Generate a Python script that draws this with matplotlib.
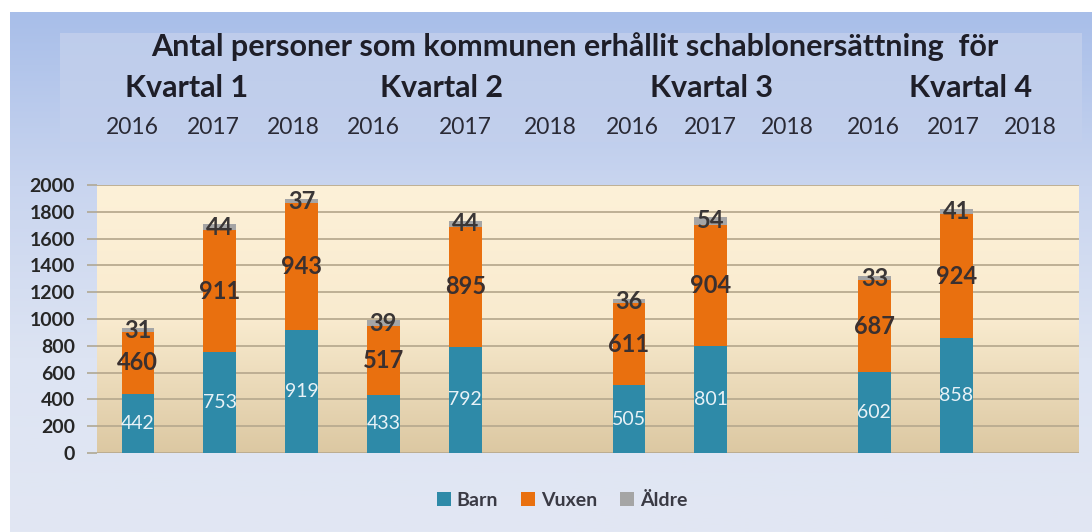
import numpy as np
import matplotlib
matplotlib.use('Agg')
import matplotlib.pyplot as plt
from matplotlib.patches import FancyBboxPatch
from matplotlib.colors import LinearSegmentedColormap

plt.rcParams['font.family'] = ['Lato', 'DejaVu Sans']

# data: 4 quarters x 3 years, 2018 missing after Q1
kvartal = ['Kvartal 1', 'Kvartal 2', 'Kvartal 3', 'Kvartal 4']
years = ['2016', '2017', '2018']
barn = [442, 753, 919, 433, 792, None, 505, 801, None, 602, 858, None]
vuxen = [460, 911, 943, 517, 895, None, 611, 904, None, 687, 924, None]
aldre = [31, 44, 37, 39, 44, None, 36, 54, None, 33, 41, None]
series = ['Barn', 'Vuxen', 'Äldre']
colors = ['#2e8aa8', '#e9700f', '#a5a5a5']

W, H = 1092, 532
fig = plt.figure(figsize=(W / 100, H / 100), dpi=100)
fig.patch.set_facecolor('white')

# outer blue gradient frame
bg = fig.add_axes([10 / W, 0, 1 - 10 / W, 1 - 12 / H], zorder=-10)
bg.axis('off')
cm_bg = LinearSegmentedColormap.from_list('bg', ['#a8bee9', '#c9d5ef', '#dde4f3', '#e2e7f3'])
bg.imshow(np.linspace(0, 1, 256).reshape(-1, 1), cmap=cm_bg, aspect='auto', extent=[0, 1, 0, 1])
bg.set_xlim(0, 1)
bg.set_ylim(0, 1)

# lighter title box
box = FancyBboxPatch((60 / W, 1 - 142 / H), (1082 - 60) / W, (142 - 33) / H,
                     boxstyle='square,pad=0', transform=fig.transFigure,
                     facecolor='#c3d0ec', edgecolor='none', alpha=0.8, zorder=-5)
fig.patches.append(box)

ax = fig.add_axes([97 / W, 1 - 453 / H, (1079 - 97) / W, (453 - 185) / H])
cm_ax = LinearSegmentedColormap.from_list('ax', ['#fdf1d8', '#f9ebcf', '#dcc8a2'])
ax.imshow(np.linspace(0, 1, 256).reshape(-1, 1), cmap=cm_ax, aspect='auto',
          extent=[-0.5, 11.5, 0, 2000], zorder=0)

x = np.arange(len(barn))
idx = [i for i in x if barn[i] is not None]
b = np.array([barn[i] for i in idx], float)
v = np.array([vuxen[i] for i in idx], float)
a = np.array([aldre[i] for i in idx], float)
xs = x[idx]
w = 0.4
ax.bar(xs, b, w, color=colors[0], label=series[0], zorder=3)
ax.bar(xs, v, w, bottom=b, color=colors[1], label=series[1], zorder=3)
ax.bar(xs, a, w, bottom=b + v, color=colors[2], label=series[2], zorder=3)

for xi, bi, vi, ai in zip(xs, b, v, a):
    ax.text(xi, bi / 2, '%d' % bi, ha='center', va='center', fontsize=14,
            color='#e8f2f7', zorder=4)
    ax.text(xi, bi + vi / 2, '%d' % vi, ha='center', va='center', fontsize=17,
            fontweight='bold', color='#3a3030', zorder=4)
    ax.text(xi, bi + vi + ai / 2, '%d' % ai, ha='center', va='center', fontsize=17,
            fontweight='bold', color='#3a3636', zorder=4)

ax.set_xlim(-0.5, 11.5)
ax.set_ylim(0, 2000)
ax.set_yticks(range(0, 2001, 200))
ax.set_xticks([])
for yv in range(200, 2001, 200):
    ax.axhline(yv, color='#b9ab90', lw=1.3, zorder=1)
ax.axhline(0, color='#b9ab90', lw=1.3, zorder=1)
for s in ax.spines.values():
    s.set_visible(False)
ax.tick_params(axis='y', length=7, width=1.2, color='#b0a894', pad=9,
               labelsize=14, labelcolor='#262626')
for t in ax.get_yticklabels():
    t.set_fontweight('bold')

# header texts
fig.text(575 / W, 1 - 47 / H, 'Antal personer som kommunen erhållit schablonersättning  för',
         ha='center', va='center', fontsize=22, fontweight='bold', color='#1e1e28')
kx = [187, 441, 711, 971]
for k, xk in zip(kvartal, kx):
    fig.text(xk / W, 1 - 88 / H, k, ha='center', va='center', fontsize=22,
             fontweight='bold', color='#1e1e28')
yx = [132, 213, 293, 373, 465, 550, 632, 710, 787, 873, 953, 1030]
for i, xy in enumerate(yx):
    fig.text(xy / W, 1 - 127 / H, years[i % 3], ha='center', va='center',
             fontsize=16.5, color='#2a2a35')

fig.legend(loc='center', bbox_to_anchor=(562 / W, 1 - 500 / H), ncol=3, frameon=False,
           handlelength=0.7, handleheight=0.7, handletextpad=0.3, columnspacing=1.2,
           prop={'size': 14, 'weight': 'bold'})
for t in fig.legends[0].get_texts():
    t.set_color('#3a3a44')

fig.savefig('out.png', dpi=100)
